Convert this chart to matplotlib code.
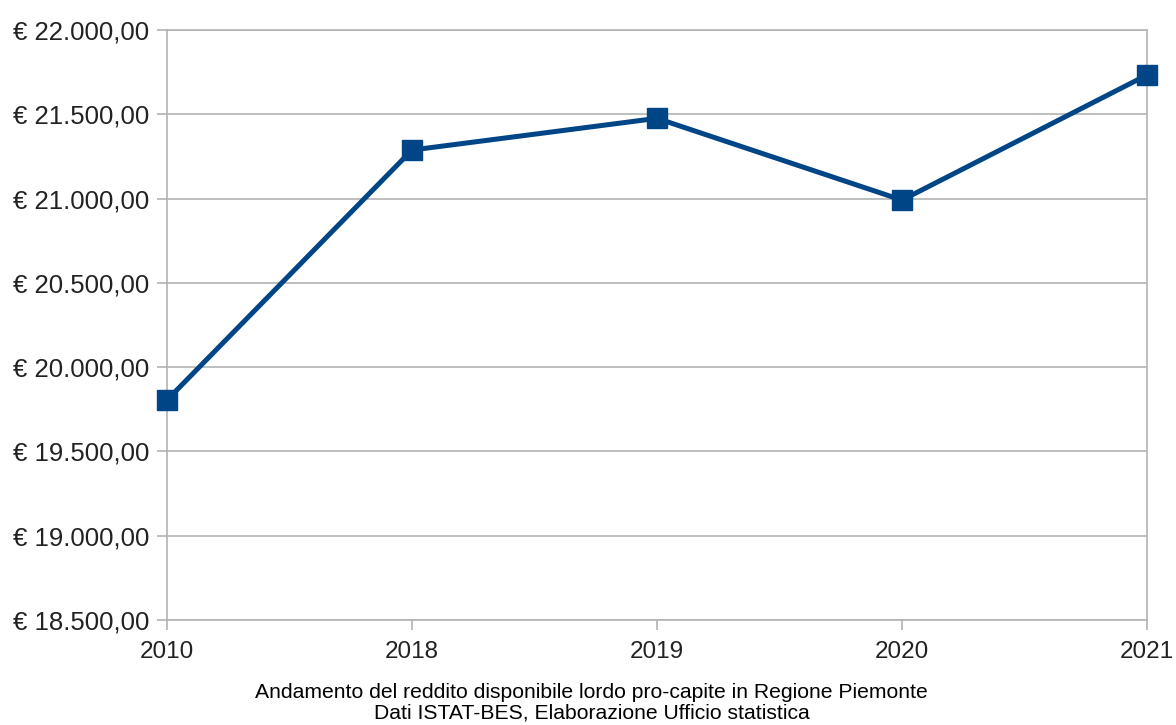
import matplotlib
matplotlib.use("Agg")
from matplotlib import pyplot as plt
from matplotlib.ticker import FuncFormatter

# Data
years = ["2010", "2018", "2019", "2020", "2021"]
reddito = [19805, 21288, 21476, 20991, 21733]
y_ticks = [18500, 19000, 19500, 20000, 20500, 21000, 21500, 22000]
caption = ("Andamento del reddito disponibile lordo pro-capite in Regione Piemonte\n"
           "Dati ISTAT-BES, Elaborazione Ufficio statistica")

plt.rcParams['font.family'] = ['Liberation Sans', 'DejaVu Sans']

def euro(v, pos):
    s = f"{v:,.2f}".replace(",", "X").replace(".", ",").replace("X", ".")
    return "€ " + s

fig = plt.figure(figsize=(11.76, 7.25), dpi=100)
ax = fig.add_axes([0.142, 0.1448, 0.8333, 0.8138])

x = range(len(years))
ax.plot(x, reddito, color="#004586", linewidth=3.6, marker="s", markersize=14,
        clip_on=False, zorder=3)

ax.set_xlim(0, len(years) - 1)
ax.set_ylim(18500, 22000)
ax.set_xticks(list(x))
ax.set_xticklabels(years)
ax.set_yticks(y_ticks)
ax.yaxis.set_major_formatter(FuncFormatter(euro))

ax.grid(axis="y", color="#b3b3b3", linewidth=1.2)
ax.set_axisbelow(True)
for sp in ax.spines.values():
    sp.set_color("#b3b3b3")
    sp.set_linewidth(1.2)
ax.tick_params(axis="both", colors="#b3b3b3", labelcolor="#222222",
               length=7, width=1.2)
ax.tick_params(axis="y", labelsize=18.5, pad=6)
ax.tick_params(axis="x", labelsize=17.5, pad=8)

fig.text(0.503, 0.004, caption, ha="center", va="bottom", fontsize=15.2,
         color="black", linespacing=1.05)

fig.savefig("out.png", dpi=100)
